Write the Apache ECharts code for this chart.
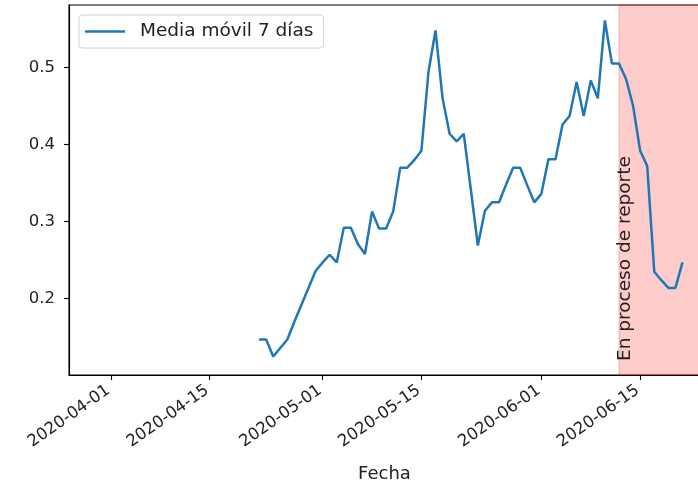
<!DOCTYPE html>
<html>
<head>
<meta charset="utf-8">
<script src="https://cdn.jsdelivr.net/npm/echarts@6/dist/echarts.min.js"></script>
<style>
  html, body { margin: 0; padding: 0; background: #fff; }
  #chart { width: 698px; height: 489px; }
</style>
</head>
<body>
<div id="chart"></div>
<script>
var fechas = [
  '2020-04-22', '2020-04-23', '2020-04-24', '2020-04-25', '2020-04-26', '2020-04-27', '2020-04-28',
  '2020-04-29', '2020-04-30', '2020-05-01', '2020-05-02', '2020-05-03', '2020-05-04', '2020-05-05',
  '2020-05-06', '2020-05-07', '2020-05-08', '2020-05-09', '2020-05-10', '2020-05-11', '2020-05-12',
  '2020-05-13', '2020-05-14', '2020-05-15', '2020-05-16', '2020-05-17', '2020-05-18', '2020-05-19',
  '2020-05-20', '2020-05-21', '2020-05-22', '2020-05-23', '2020-05-24', '2020-05-25', '2020-05-26',
  '2020-05-27', '2020-05-28', '2020-05-29', '2020-05-30', '2020-05-31', '2020-06-01', '2020-06-02',
  '2020-06-03', '2020-06-04', '2020-06-05', '2020-06-06', '2020-06-07', '2020-06-08', '2020-06-09',
  '2020-06-10', '2020-06-11', '2020-06-12', '2020-06-13', '2020-06-14', '2020-06-15', '2020-06-16',
  '2020-06-17', '2020-06-18', '2020-06-19', '2020-06-20', '2020-06-21'
];
var mediaMovil = [
  0.147, 0.147, 0.125, 0.136, 0.147, 0.170, 0.192,
  0.214, 0.236, 0.247, 0.257, 0.247, 0.292, 0.292,
  0.271, 0.258, 0.313, 0.291, 0.291, 0.313, 0.370,
  0.370, 0.380, 0.392, 0.494, 0.548, 0.460, 0.414,
  0.404, 0.414, 0.342, 0.269, 0.314, 0.325, 0.325,
  0.348, 0.370, 0.370, 0.347, 0.325, 0.336, 0.381,
  0.381, 0.426, 0.437, 0.481, 0.437, 0.483, 0.460,
  0.561, 0.505, 0.505, 0.485, 0.450, 0.392, 0.372,
  0.235, 0.224, 0.214, 0.214, 0.247
];
var ticksFecha = ['2020-04-01', '2020-04-15', '2020-05-01', '2020-05-15', '2020-06-01', '2020-06-15'];
var ticksY = [0.2, 0.3, 0.4, 0.5];
var inicioReporte = '2020-06-12';

var DIA = 86400000;
var xMin = Date.parse('2020-04-01') - 5.94 * DIA;
var xMax = Date.parse('2020-04-01') + 83.48 * DIA;
var yMin = 0.101, yMax = 0.581;

var chart = echarts.init(document.getElementById('chart'));
var fuente = 'DejaVu Sans';

var option = {
  animation: false,
  grid: {
    left: 69, top: 5, right: -2, bottom: 114,
    outerBoundsMode: 'none',
    show: true, borderColor: '#000', borderWidth: 1.1, backgroundColor: 'transparent'
  },
  legend: {
    left: 79, top: 15,
    padding: [7, 10, 7, 6],
    backgroundColor: 'rgba(255,255,255,0.8)',
    borderColor: '#d0d0d0', borderWidth: 1, borderRadius: 3,
    itemWidth: 40, itemHeight: 2.5,
    textStyle: { fontFamily: fuente, fontSize: 18.5, color: '#222', padding: [0, 0, 0, 10] },
    data: [{ name: 'Media móvil 7 días', icon: 'rect' }]
  },
  xAxis: {
    type: 'value',
    min: xMin, max: xMax,
    name: 'Fecha', nameLocation: 'middle', nameGap: 90,
    nameTextStyle: { fontFamily: fuente, fontSize: 18, color: '#222' },
    splitLine: { show: false },
    axisLine: { lineStyle: { color: '#000', width: 1.1 } },
    axisTick: {
      show: true, length: 5, lineStyle: { color: '#000', width: 1.1 },
      customValues: ticksFecha.map(function (d) { return Date.parse(d); })
    },
    axisLabel: {
      rotate: 35, margin: 12, padding: [0, 3, 0, 0],
      fontFamily: fuente, fontSize: 16.5, color: '#222',
      customValues: ticksFecha.map(function (d) { return Date.parse(d); }),
      formatter: function (v) { return new Date(v).toISOString().slice(0, 10); }
    }
  },
  yAxis: {
    type: 'value',
    min: yMin, max: yMax,
    splitLine: { show: false },
    axisLine: { show: true, lineStyle: { color: '#000', width: 1.1 } },
    axisTick: { show: true, length: 5, lineStyle: { color: '#000', width: 1.1 }, customValues: ticksY },
    axisLabel: {
      margin: 14, fontFamily: fuente, fontSize: 16.5, color: '#222',
      customValues: ticksY,
      formatter: function (v) { return v.toFixed(1); }
    }
  },
  series: [{
    name: 'Media móvil 7 días',
    type: 'line',
    showSymbol: false,
    lineStyle: { color: '#1f77b4', width: 2.5 },
    itemStyle: { color: '#1f77b4' },
    data: fechas.map(function (d, i) { return [Date.parse(d), mediaMovil[i]]; }),
    markArea: {
      silent: true,
      itemStyle: { color: 'rgba(255,0,0,0.2)', borderColor: 'rgba(255,0,0,0.25)', borderWidth: 1 },
      data: [[{ xAxis: Date.parse(inicioReporte) }, { xAxis: xMax }]]
    },
    z: 3
  }]
};
chart.setOption(option);

var p = chart.convertToPixel({ gridIndex: 0 }, [Date.parse(inicioReporte), yMin]);
chart.setOption({
  graphic: [{
    type: 'text',
    x: p[0] + 16, y: p[1] - 14,
    rotation: Math.PI / 2,
    z: 10,
    style: {
      text: 'En proceso de reporte',
      fontFamily: fuente, fontSize: 18.5, fill: '#222',
      align: 'left', verticalAlign: 'bottom'
    }
  }]
});
</script>
</body>
</html>
